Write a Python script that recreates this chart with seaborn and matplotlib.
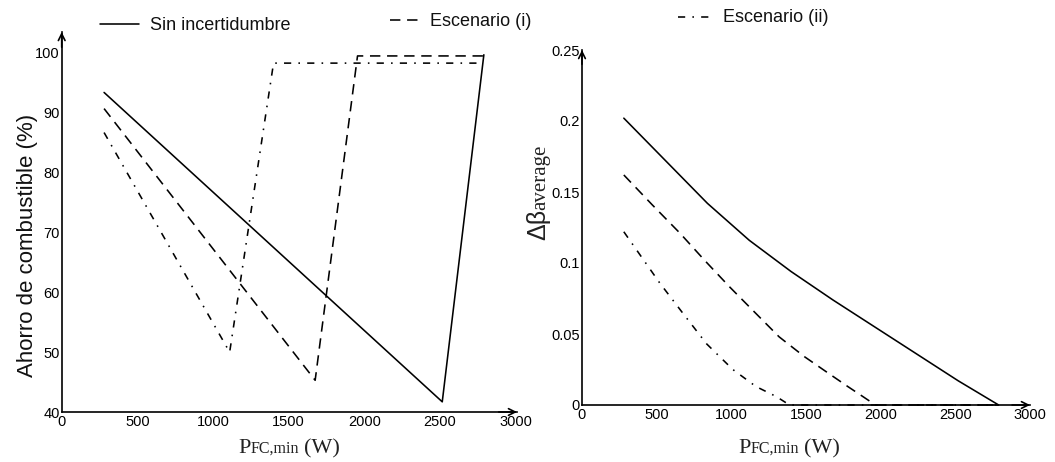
import matplotlib
matplotlib.use("Agg")
import matplotlib.pyplot as plt
from matplotlib.lines import Line2D
import pandas as pd
import seaborn as sns

# ---------------- data ----------------
series_names = ["Sin incertidumbre", "Escenario (i)", "Escenario (ii)"]

# Left panel: Ahorro de combustible (%)
ahorro_x_sin = [280, 2515, 2790]
ahorro_y_sin = [93.4, 41.7, 99.7]
ahorro_x_i = [280, 1675, 1955, 2790]
ahorro_y_i = [90.7, 45.3, 99.5, 99.5]
ahorro_x_ii = [280, 1110, 1400, 2780]
ahorro_y_ii = [86.7, 50.0, 98.3, 98.3]

# Right panel: delta beta average
beta_x_sin = [280, 560, 840, 1120, 1400, 1680, 1960, 2240, 2520, 2790]
beta_y_sin = [0.202, 0.172, 0.142, 0.116, 0.094, 0.074, 0.055, 0.036, 0.017, 0.0]
beta_x_i = [280, 470, 656, 820, 990, 1150, 1320, 1490, 1655, 1780, 1880, 1965, 2790]
beta_y_i = [0.162, 0.141, 0.121, 0.102, 0.083, 0.066, 0.048, 0.034, 0.022, 0.013, 0.006, 0.0, 0.0]
beta_x_ii = [280, 380, 520, 680, 835, 1010, 1165, 1300, 1390, 2790]
beta_y_ii = [0.122, 0.107, 0.086, 0.064, 0.043, 0.025, 0.013, 0.006, 0.0, 0.0]

x_ticks = [0, 500, 1000, 1500, 2000, 2500, 3000]
ahorro_ticks = [40, 50, 60, 70, 80, 90, 100]
beta_ticks = [0, 0.05, 0.10, 0.15, 0.20, 0.25]
beta_tick_labels = ["0", "0.05", "0.1", "0.15", "0.2", "0.25"]

# ---------------- style ----------------
sns.set_theme(style="white")
plt.rcParams["font.family"] = ["Liberation Sans", "DejaVu Sans"]

W, H = 1055, 462
fig = plt.figure(figsize=(W / 100, H / 100), dpi=100)

dash_map = {
    series_names[0]: "",
    series_names[1]: (6.5, 4.2),
    series_names[2]: (4.5, 4.5, 1, 4.5),
}
LW = 1.15


def long_df(xs, ys):
    rows = []
    for name, xv, yv in zip(series_names, xs, ys):
        for a, b in zip(xv, yv):
            rows.append({"serie": name, "x": a, "y": b})
    return pd.DataFrame(rows)


df_a = long_df([ahorro_x_sin, ahorro_x_i, ahorro_x_ii],
               [ahorro_y_sin, ahorro_y_i, ahorro_y_ii])
df_b = long_df([beta_x_sin, beta_x_i, beta_x_ii],
               [beta_y_sin, beta_y_i, beta_y_ii])

ax1 = fig.add_axes([61.7 / W, 1 - 412 / H, (517 - 61.7) / W, (412 - 32) / H])
ax2 = fig.add_axes([582 / W, 1 - 405 / H, (1030 - 582) / W, (405 - 50) / H])

for ax, df in ((ax1, df_a), (ax2, df_b)):
    sns.lineplot(data=df, x="x", y="y", style="serie", dashes=dash_map,
                 color="black", linewidth=LW, sort=False, estimator=None,
                 legend=False, ax=ax, clip_on=False)

ax1.set_xlim(0, 3009)
ax1.set_ylim(40, 103.5)
ax1.set_xticks(x_ticks)
ax1.set_yticks(ahorro_ticks)

ax2.set_xlim(0, 3000)
ax2.set_ylim(0, 0.25)
ax2.set_xticks(x_ticks)
ax2.set_yticks(beta_ticks)
ax2.set_yticklabels(beta_tick_labels)

for ax in (ax1, ax2):
    ax.set_xlabel("")
    ax.set_ylabel("")
    ax.set_facecolor("none")
    for s in ("top", "right"):
        ax.spines[s].set_visible(False)
    for s in ("left", "bottom"):
        ax.spines[s].set_color("black")
        ax.spines[s].set_linewidth(1.2)
    ax.tick_params(direction="in", length=3.5, width=0.9, labelsize=10.5,
                   colors="black", pad=1.5)
    ax.tick_params(axis="x", pad=2)
    # arrow heads at the ends of the axes
    ax.annotate("", xy=(1.0, 0), xytext=(0.96, 0), xycoords="axes fraction",
                arrowprops=dict(arrowstyle="->", lw=1.2, color="black",
                                mutation_scale=12, shrinkA=0, shrinkB=0))
    ax.annotate("", xy=(0, 1.0), xytext=(0, 0.96), xycoords="axes fraction",
                arrowprops=dict(arrowstyle="->", lw=1.2, color="black",
                                mutation_scale=12, shrinkA=0, shrinkB=0))

# ---------------- legend (top strip) ----------------
legend_items = [
    (series_names[0], 100, 139, 24, 150),
    (series_names[1], 390, 422, 20, 430),
    (series_names[2], 678, 710, 17, 723),
]
for name, x0, x1, yy, xt in legend_items:
    ln = Line2D([x0 / W, x1 / W], [1 - yy / H, 1 - yy / H], color="black",
                linewidth=LW, transform=fig.transFigure)
    d = dash_map[name]
    if d:
        ln.set_dashes(d)
    fig.add_artist(ln)
    fig.text(xt / W, 1 - (yy + 1) / H, name, fontsize=13, ha="left",
             va="center", color="#111111")

# ---------------- axis labels ----------------
fig.text(28 / W, 1 - 245 / H, "Ahorro de combustible (%)", rotation=90,
         fontsize=16, ha="center", va="center", color="#111111")

fig.canvas.draw()
r = fig.canvas.get_renderer()


def xlabel_at(x_px, base_px):
    x = x_px
    for txt, size, gap in (("P", 16, 0), ("FC,min", 11.5, 0), ("(W)", 16, 5)):
        x += gap
        t = fig.text(x / W, 1 - base_px / H, txt, fontsize=size,
                     family="Liberation Serif", ha="left", va="baseline",
                     color="#222222")
        bb = t.get_window_extent(r)
        x = bb.x1


xlabel_at(238, 453)
xlabel_at(738, 453)

t1 = fig.text(545 / W, 1 - 240 / H, "Δβ", rotation=90, rotation_mode="anchor",
              ha="left", va="baseline", fontsize=18, family="Liberation Sans",
              color="#222222")
bb1 = t1.get_window_extent(r)
fig.text(545 / W, (bb1.y1 - 1) / H, "average", rotation=90,
         rotation_mode="anchor", ha="left", va="baseline", fontsize=15,
         family="Liberation Serif", color="#222222")

fig.savefig("out.png", dpi=100)
